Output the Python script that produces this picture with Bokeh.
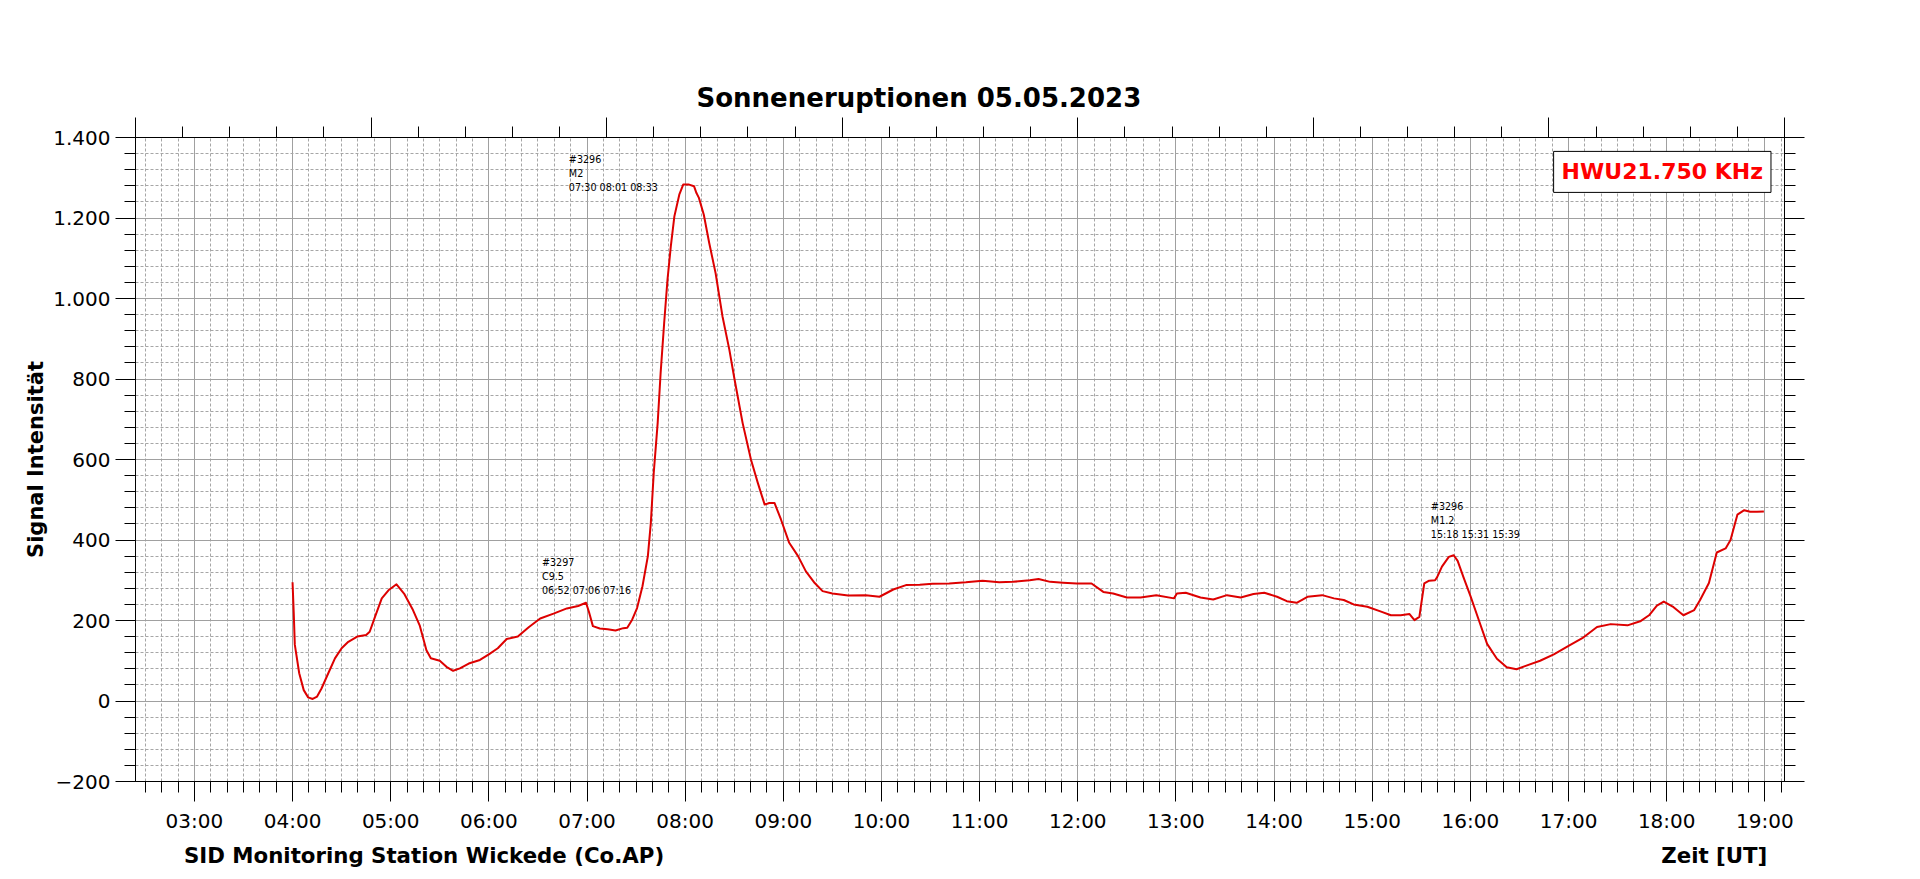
from bokeh.plotting import figure
from bokeh.models import Range1d, LinearAxis, FixedTicker, Label
from bokeh.embed import file_html
from bokeh.resources import INLINE

# ---- data (decimal hours UT, signal intensity) ----
t_hours = [4.000, 4.012, 4.023, 4.068, 4.114, 4.159, 4.205, 4.250, 4.295, 4.364,
           4.432, 4.500, 4.568, 4.659, 4.750, 4.786, 4.840, 4.909, 4.977, 5.059,
           5.136, 5.227, 5.295, 5.364, 5.409, 5.500, 5.568, 5.636, 5.705, 5.795,
           5.909, 6.000, 6.091, 6.182, 6.295, 6.409, 6.523, 6.659, 6.795, 6.909,
           6.990, 7.020, 7.060, 7.130, 7.210, 7.290, 7.370, 7.410, 7.460, 7.510,
           7.565, 7.620, 7.650, 7.680, 7.720, 7.750, 7.786, 7.820, 7.854, 7.890,
           7.940, 7.980, 8.040, 8.090, 8.115, 8.140, 8.190, 8.245, 8.310, 8.380,
           8.450, 8.500, 8.585, 8.670, 8.740, 8.810, 8.857, 8.910, 8.976, 9.060,
           9.150, 9.230, 9.320, 9.400, 9.500, 9.660, 9.840, 9.980, 10.120, 10.250,
           10.390, 10.520, 10.690, 10.860, 11.030, 11.200, 11.340, 11.510, 11.600, 11.720,
           11.850, 11.990, 12.140, 12.260, 12.360, 12.500, 12.640, 12.800, 12.980, 13.010,
           13.100, 13.250, 13.380, 13.520, 13.660, 13.790, 13.900, 14.030, 14.130, 14.230,
           14.340, 14.490, 14.610, 14.710, 14.810, 14.950, 15.090, 15.190, 15.290, 15.380,
           15.430, 15.480, 15.530, 15.580, 15.640, 15.660, 15.710, 15.780, 15.830, 15.870,
           15.930, 16.000, 16.080, 16.170, 16.270, 16.370, 16.470, 16.570, 16.710, 16.850,
           17.000, 17.140, 17.290, 17.430, 17.600, 17.730, 17.820, 17.900, 17.970, 18.070,
           18.170, 18.280, 18.340, 18.430, 18.510, 18.600, 18.650, 18.720, 18.790, 18.850,
           18.920, 18.990]
signal = [295, 220, 140, 69, 27, 9, 5, 11, 31, 69,
          106, 131, 147, 160, 164, 172, 209, 255, 275, 290,
          267, 226, 188, 126, 106, 100, 85, 75, 81, 93,
          102, 116, 131, 154, 160, 184, 205, 217, 230, 236,
          244, 221, 186, 180, 178, 175, 181, 182, 202, 231,
          285, 360, 442, 567, 691, 815, 939, 1047, 1130, 1204,
          1258, 1283, 1283, 1279, 1262, 1250, 1208, 1138, 1063, 956,
          873, 803, 691, 600, 542, 488, 492, 492, 451, 393,
          360, 322, 293, 273, 267, 262, 263, 259, 277, 288,
          289, 291, 292, 295, 299, 295, 296, 300, 303, 296,
          294, 292, 292, 271, 267, 257, 257, 263, 255, 267,
          269, 257, 252, 263, 257, 266, 269, 259, 248, 244,
          259, 263, 255, 251, 240, 234, 222, 213, 213, 216,
          201, 209, 292, 299, 300, 307, 334, 358, 362, 348,
          307, 261, 205, 142, 105, 84, 79, 88, 100, 116,
          137, 156, 184, 191, 188, 198, 213, 237, 247, 233,
          213, 226, 251, 293, 369, 379, 400, 463, 474, 470,
          470, 471]

x_tick_hours = [3, 4, 5, 6, 7, 8, 9, 10, 11, 12, 13, 14, 15, 16, 17, 18, 19]
x_tick_labels = ["03:00", "04:00", "05:00", "06:00", "07:00", "08:00", "09:00", "10:00",
                 "11:00", "12:00", "13:00", "14:00", "15:00", "16:00", "17:00", "18:00", "19:00"]
y_tick_values = [-200, 0, 200, 400, 600, 800, 1000, 1200, 1400]
y_tick_labels = ["\u2212200", "0", "200", "400", "600", "800", "1.000", "1.200", "1.400"]

flare_texts = ["#3296\nM2\n07:30 08:01 08:33",
               "#3297\nC9.5\n06:52 07:06 07:16",
               "#3296\nM1.2\n15:18 15:31 15:39"]
flare_x = [6.815, 6.541, 15.597]
flare_y = [1360, 358, 498]

title_text = "Sonneneruptionen 05.05.2023"
y_label = "Signal Intensit\u00e4t"
bottom_texts = ["SID Monitoring Station Wickede (Co.AP)", "Zeit [UT]"]
bottom_text_pos = [5.34, 18.485]
freq_label = "HWU21.750 KHz"

FONT = "DejaVu Sans"

p = figure(width=1880, height=870, output_backend="svg", toolbar_location=None,
           x_range=Range1d(2.4, 19.2), y_range=Range1d(-200, 1400),
           min_border_left=135, min_border_right=96, min_border_top=137, min_border_bottom=89,
           title=title_text)
p.background_fill_color = "white"
p.border_fill_color = "white"
p.outline_line_color = "black"

p.title.align = "left"
p.title.offset = 561
p.title.text_font = FONT
p.title.text_font_size = "26px"
p.title.text_font_style = "bold"
p.title.text_color = "black"
p.title.standoff = 10

bottom_ax = p.xaxis[0]
left_ax = p.yaxis[0]

x_minor = [2.5 + i / 6 for i in range(101)]
y_minor = [-200 + 40 * i for i in range(41)]
xticker = FixedTicker(ticks=x_tick_hours, minor_ticks=x_minor)
yticker = FixedTicker(ticks=y_tick_values, minor_ticks=y_minor)

bottom_ax.ticker = xticker
left_ax.ticker = yticker
p.xgrid[0].ticker = xticker
p.ygrid[0].ticker = yticker
bottom_ax.major_label_overrides = {h: s for h, s in zip(x_tick_hours, x_tick_labels)}
left_ax.major_label_overrides = {v: s for v, s in zip(y_tick_values, y_tick_labels)}

right_ax = LinearAxis(ticker=yticker, major_label_text_font_size="0px", major_label_standoff=0,
                      major_label_overrides={v: "" for v in y_tick_values})
p.add_layout(right_ax, "right")
p.extra_x_ranges = {"top": Range1d(0, 7)}
top_ticks = [0, 1, 2, 3, 4, 5, 6, 7]
top_ax = LinearAxis(x_range_name="top",
                    ticker=FixedTicker(ticks=top_ticks, minor_ticks=[0.2 * i for i in range(36)]),
                    major_label_text_font_size="0px", major_label_standoff=0,
                    major_label_overrides={v: "" for v in top_ticks})
p.add_layout(top_ax, "above")

for ax in [bottom_ax, left_ax, right_ax, top_ax]:
    ax.major_tick_out = 20
    ax.major_tick_in = 0
    ax.minor_tick_out = 11
    ax.minor_tick_in = 0
    ax.axis_line_color = "black"
    ax.major_tick_line_color = "black"
    ax.minor_tick_line_color = "black"
    ax.major_label_text_font = FONT
    ax.major_label_text_color = "black"

bottom_ax.major_label_text_font_size = "20px"
bottom_ax.major_label_standoff = 7
left_ax.major_label_text_font_size = "20px"
left_ax.major_label_standoff = 5
left_ax.axis_label = y_label
left_ax.axis_label_text_font = FONT
left_ax.axis_label_text_font_style = "bold"
left_ax.axis_label_text_font_size = "21px"
left_ax.axis_label_text_color = "black"
left_ax.axis_label_standoff = 2

# second bottom axis carrying the station name and the time-axis caption
caption_ax = LinearAxis(ticker=FixedTicker(ticks=bottom_text_pos, minor_ticks=[]),
                        major_label_overrides={v: s for v, s in zip(bottom_text_pos, bottom_texts)},
                        axis_line_color=None, major_tick_line_color=None, minor_tick_line_color=None,
                        major_tick_in=0, major_tick_out=0, minor_tick_in=0, minor_tick_out=0,
                        major_label_standoff=7, major_label_text_font=FONT,
                        major_label_text_font_style="bold", major_label_text_font_size="21.3px",
                        major_label_text_color="black")
p.add_layout(caption_ax, "below")

for g in [p.xgrid[0], p.ygrid[0]]:
    g.grid_line_color = "#a0a0a0"
    g.grid_line_width = 1
    g.minor_grid_line_color = "#a6a6a6"
    g.minor_grid_line_dash = "3 2"
    g.minor_grid_line_width = 1

p.line(t_hours, signal, line_color="#dd0000", line_width=2, line_join="round")

for txt, fx, fy in zip(flare_texts, flare_x, flare_y):
    p.add_layout(Label(x=fx, y=fy, text=txt, text_font=FONT, text_font_size="9.6px",
                       text_baseline="top", text_align="left", text_color="black",
                       text_line_height=1.3))

p.add_layout(Label(x=1526.8, y=609.6, x_units="screen", y_units="screen", text=freq_label,
                   text_font=FONT, text_font_style="bold", text_font_size="22px",
                   text_color="#ff0000", text_align="center", text_baseline="middle",
                   background_fill_color="white", border_line_color="black",
                   border_line_width=1, padding=8))

open("out.html", "w").write(file_html(p, INLINE))
